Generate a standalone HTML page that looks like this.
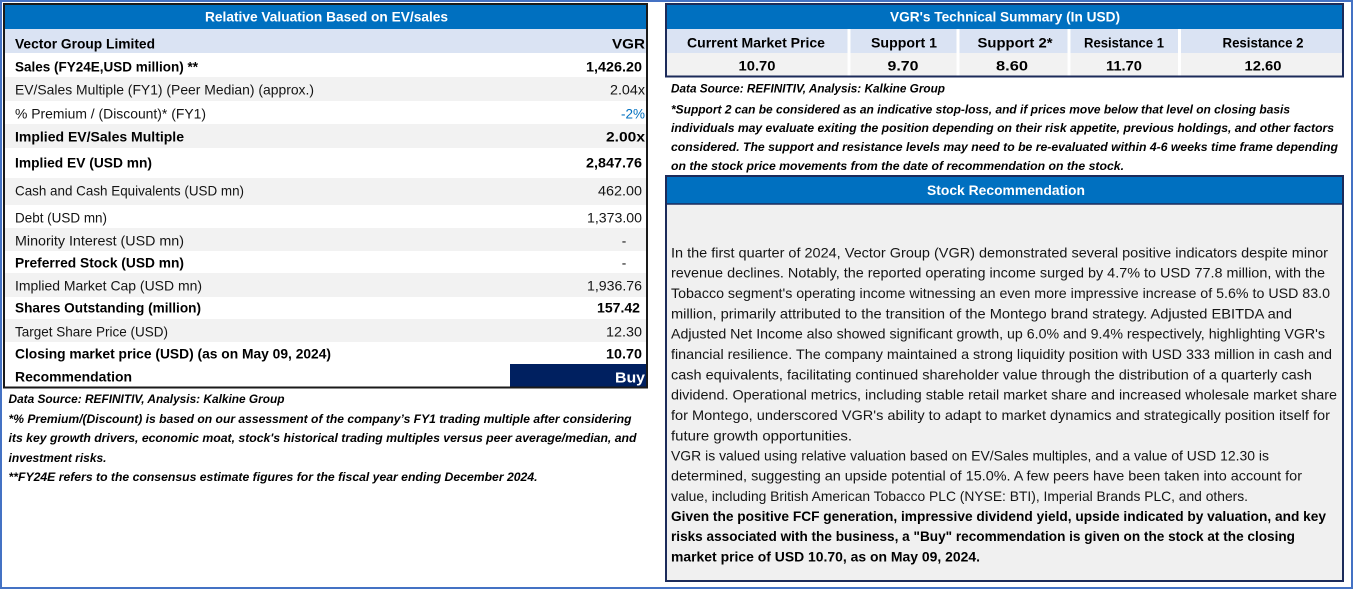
<!DOCTYPE html>
<html>
<head>
<meta charset="utf-8">
<style>
html,body{margin:0;padding:0;background:#fff;}
svg{display:block;}
text{font-family:"Liberation Sans",Arial,sans-serif;font-size:13.6px;fill:#141414;}
.b{font-weight:bold;fill:#000;}
.w{font-weight:bold;fill:#fff;}
.n{font-style:italic;font-weight:bold;font-size:12px;fill:#000;}
</style>
</head>
<body>
<svg width="1354" height="590" viewBox="0 0 1354 590" xmlns="http://www.w3.org/2000/svg">
<rect x="0" y="0" width="1354" height="590" fill="#fff"/>

<!-- LEFT TABLE backgrounds -->
<rect x="4" y="4" width="643" height="25" fill="#0070C0"/>
<rect x="4" y="29" width="643" height="24" fill="#DAE3F3"/>
<rect x="4" y="77" width="643" height="24" fill="#F2F2F2"/>
<rect x="4" y="124" width="643" height="24" fill="#F2F2F2"/>
<rect x="4" y="178" width="643" height="27" fill="#F2F2F2"/>
<rect x="4" y="228" width="643" height="23" fill="#F2F2F2"/>
<rect x="4" y="273" width="643" height="24" fill="#F2F2F2"/>
<rect x="4" y="319" width="643" height="23" fill="#F2F2F2"/>
<rect x="510" y="364" width="137" height="23" fill="#002060"/>
<rect x="4" y="4" width="643" height="383.5" fill="none" stroke="#1a1a1a" stroke-width="2"/>

<!-- LEFT TABLE text -->
<text class="w" x="205" y="21.5" textLength="243" lengthAdjust="spacingAndGlyphs">Relative Valuation Based on EV/sales</text>
<text class="b" x="15" y="48.5" textLength="140" lengthAdjust="spacingAndGlyphs">Vector Group Limited</text>
<text class="b" x="645" y="48.5" text-anchor="end" textLength="33" lengthAdjust="spacingAndGlyphs">VGR</text>

<text class="b" x="15" y="71.5" textLength="183" lengthAdjust="spacingAndGlyphs">Sales (FY24E,USD million) **</text>
<text class="b" x="642" y="71.5" text-anchor="end" textLength="56" lengthAdjust="spacingAndGlyphs">1,426.20</text>

<text x="15" y="94.5" textLength="299" lengthAdjust="spacingAndGlyphs">EV/Sales Multiple (FY1) (Peer Median) (approx.)</text>
<text x="645" y="94.5" text-anchor="end" textLength="35" lengthAdjust="spacingAndGlyphs">2.04x</text>

<text x="15" y="118.5" textLength="191" lengthAdjust="spacingAndGlyphs">% Premium / (Discount)* (FY1)</text>
<text x="645" y="118.5" text-anchor="end" textLength="24" lengthAdjust="spacingAndGlyphs" style="fill:#0070C0">-2%</text>

<text class="b" x="15" y="141.5" textLength="169" lengthAdjust="spacingAndGlyphs">Implied EV/Sales Multiple</text>
<text class="b" x="645" y="141.5" text-anchor="end" textLength="39" lengthAdjust="spacingAndGlyphs">2.00x</text>

<text class="b" x="15" y="167.5" textLength="137" lengthAdjust="spacingAndGlyphs">Implied EV (USD mn)</text>
<text class="b" x="642" y="167.5" text-anchor="end" textLength="56" lengthAdjust="spacingAndGlyphs">2,847.76</text>

<text x="15" y="195.5" textLength="229" lengthAdjust="spacingAndGlyphs">Cash and Cash Equivalents (USD mn)</text>
<text x="642" y="195.5" text-anchor="end" textLength="44" lengthAdjust="spacingAndGlyphs">462.00</text>

<text x="15" y="222.5" textLength="92" lengthAdjust="spacingAndGlyphs">Debt (USD mn)</text>
<text x="642" y="222.5" text-anchor="end" textLength="55" lengthAdjust="spacingAndGlyphs">1,373.00</text>

<text x="15" y="245.5" textLength="169" lengthAdjust="spacingAndGlyphs">Minority Interest (USD mn)</text>
<text x="624" y="245.5" text-anchor="middle">-</text>

<text class="b" x="15" y="267.5" textLength="169" lengthAdjust="spacingAndGlyphs">Preferred Stock (USD mn)</text>
<text x="624" y="267.5" text-anchor="middle">-</text>

<text x="15" y="290.5" textLength="187" lengthAdjust="spacingAndGlyphs">Implied Market Cap (USD mn)</text>
<text x="642" y="290.5" text-anchor="end" textLength="55" lengthAdjust="spacingAndGlyphs">1,936.76</text>

<text class="b" x="15" y="312.5" textLength="186" lengthAdjust="spacingAndGlyphs">Shares Outstanding (million)</text>
<text class="b" x="640" y="312.5" text-anchor="end" textLength="43" lengthAdjust="spacingAndGlyphs">157.42</text>

<text x="15" y="336.5" textLength="153" lengthAdjust="spacingAndGlyphs">Target Share Price (USD)</text>
<text x="642" y="336.5" text-anchor="end" textLength="36" lengthAdjust="spacingAndGlyphs">12.30</text>

<text class="b" x="15" y="358.5" textLength="316" lengthAdjust="spacingAndGlyphs">Closing market price (USD) (as on May 09, 2024)</text>
<text class="b" x="642" y="358.5" text-anchor="end" textLength="36" lengthAdjust="spacingAndGlyphs">10.70</text>

<text class="b" x="15" y="381.5" textLength="117" lengthAdjust="spacingAndGlyphs">Recommendation</text>
<text class="w" x="645" y="382.5" text-anchor="end" textLength="30" lengthAdjust="spacingAndGlyphs" style="font-size:15px">Buy</text>

<!-- LEFT NOTES -->
<text class="n" x="8.5" y="403" textLength="276" lengthAdjust="spacingAndGlyphs">Data Source: REFINITIV, Analysis: Kalkine Group</text>
<text class="n" x="8.5" y="423" textLength="623" lengthAdjust="spacingAndGlyphs">*% Premium/(Discount) is based on our assessment of the company’s FY1 trading multiple after considering</text>
<text class="n" x="8.5" y="442" textLength="628" lengthAdjust="spacingAndGlyphs">its key growth drivers, economic moat, stock's historical trading multiples versus peer average/median, and</text>
<text class="n" x="8.5" y="462" textLength="98" lengthAdjust="spacingAndGlyphs">investment risks.</text>
<text class="n" x="8.5" y="481" textLength="529" lengthAdjust="spacingAndGlyphs">**FY24E refers to the consensus estimate figures for the fiscal year ending December 2024.</text>

<!-- RIGHT TECH TABLE -->
<rect x="666" y="4" width="677" height="25" fill="#0070C0"/>
<rect x="666" y="29" width="677" height="24" fill="#DAE3F3"/>
<rect x="666" y="53" width="677" height="23.5" fill="#F2F2F2"/>
<rect x="847.5" y="29" width="3" height="47.5" fill="#fff"/>
<rect x="956.5" y="29" width="3" height="47.5" fill="#fff"/>
<rect x="1067.5" y="29" width="3" height="47.5" fill="#fff"/>
<rect x="1178" y="29" width="3" height="47.5" fill="#fff"/>
<rect x="666" y="4" width="677" height="72.5" fill="none" stroke="#1c2b5a" stroke-width="2"/>

<text class="w" x="890" y="21.5" textLength="230" lengthAdjust="spacingAndGlyphs">VGR's Technical Summary (In USD)</text>
<text class="b" x="756" y="47.5" text-anchor="middle" textLength="138" lengthAdjust="spacingAndGlyphs">Current Market Price</text>
<text class="b" x="904" y="47.5" text-anchor="middle" textLength="66" lengthAdjust="spacingAndGlyphs">Support 1</text>
<text class="b" x="1015" y="47.5" text-anchor="middle" textLength="75" lengthAdjust="spacingAndGlyphs">Support 2*</text>
<text class="b" x="1124" y="47.5" text-anchor="middle" textLength="80" lengthAdjust="spacingAndGlyphs">Resistance 1</text>
<text class="b" x="1263" y="47.5" text-anchor="middle" textLength="81" lengthAdjust="spacingAndGlyphs">Resistance 2</text>

<text class="b" x="757" y="70.5" text-anchor="middle" textLength="37" lengthAdjust="spacingAndGlyphs">10.70</text>
<text class="b" x="903" y="70.5" text-anchor="middle" textLength="31" lengthAdjust="spacingAndGlyphs">9.70</text>
<text class="b" x="1012" y="70.5" text-anchor="middle" textLength="32" lengthAdjust="spacingAndGlyphs">8.60</text>
<text class="b" x="1124" y="70.5" text-anchor="middle" textLength="36" lengthAdjust="spacingAndGlyphs">11.70</text>
<text class="b" x="1263" y="70.5" text-anchor="middle" textLength="37" lengthAdjust="spacingAndGlyphs">12.60</text>

<!-- RIGHT NOTES -->
<text class="n" x="671" y="92.5" textLength="274" lengthAdjust="spacingAndGlyphs">Data Source: REFINITIV, Analysis: Kalkine Group</text>
<text class="n" x="671" y="113.5" textLength="619" lengthAdjust="spacingAndGlyphs">*Support 2 can be considered as an indicative stop-loss, and if prices move below that level on closing basis</text>
<text class="n" x="671" y="132" textLength="663" lengthAdjust="spacingAndGlyphs">individuals may evaluate exiting the position depending on their risk appetite, previous holdings, and other factors</text>
<text class="n" x="671" y="151" textLength="667" lengthAdjust="spacingAndGlyphs">considered. The support and resistance levels may need to be re-evaluated within 4-6 weeks time frame depending</text>
<text class="n" x="671" y="170" textLength="453" lengthAdjust="spacingAndGlyphs">on the stock price movements from the date of recommendation on the stock.</text>

<!-- STOCK RECOMMENDATION -->
<rect x="666" y="176" width="677" height="28" fill="#0070C0"/>
<rect x="666" y="204" width="677" height="377" fill="#F0F0F0"/>
<rect x="666" y="176" width="677" height="405" fill="none" stroke="#1c2b5a" stroke-width="2"/>
<line x1="666" y1="204" x2="1343" y2="204" stroke="#1c2b5a" stroke-width="1.5"/>
<text class="w" x="927" y="195" textLength="158" lengthAdjust="spacingAndGlyphs">Stock Recommendation</text>

<text x="671" y="257.5" textLength="657" lengthAdjust="spacingAndGlyphs">In the first quarter of 2024, Vector Group (VGR) demonstrated several positive indicators despite minor</text>
<text x="671" y="277.5" textLength="654" lengthAdjust="spacingAndGlyphs">revenue declines. Notably, the reported operating income surged by 4.7% to USD 77.8 million, with the</text>
<text x="671" y="298" textLength="659" lengthAdjust="spacingAndGlyphs">Tobacco segment's operating income witnessing an even more impressive increase of 5.6% to USD 83.0</text>
<text x="671" y="318.5" textLength="621" lengthAdjust="spacingAndGlyphs">million, primarily attributed to the transition of the Montego brand strategy. Adjusted EBITDA and</text>
<text x="671" y="338.5" textLength="654" lengthAdjust="spacingAndGlyphs">Adjusted Net Income also showed significant growth, up 6.0% and 9.4% respectively, highlighting VGR's</text>
<text x="671" y="359" textLength="661" lengthAdjust="spacingAndGlyphs">financial resilience. The company maintained a strong liquidity position with USD 333 million in cash and</text>
<text x="671" y="379.5" textLength="641" lengthAdjust="spacingAndGlyphs">cash equivalents, facilitating continued shareholder value through the distribution of a quarterly cash</text>
<text x="671" y="399.5" textLength="666" lengthAdjust="spacingAndGlyphs">dividend. Operational metrics, including stable retail market share and increased wholesale market share</text>
<text x="671" y="420" textLength="659" lengthAdjust="spacingAndGlyphs">for Montego, underscored VGR's ability to adapt to market dynamics and strategically position itself for</text>
<text x="671" y="440.5" textLength="181" lengthAdjust="spacingAndGlyphs">future growth opportunities.</text>
<text x="671" y="460.5" textLength="598" lengthAdjust="spacingAndGlyphs">VGR is valued using relative valuation based on EV/Sales multiples, and a value of USD 12.30 is</text>
<text x="671" y="480.5" textLength="631" lengthAdjust="spacingAndGlyphs">determined, suggesting an upside potential of 15.0%. A few peers have been taken into account for</text>
<text x="671" y="501" textLength="577" lengthAdjust="spacingAndGlyphs">value, including British American Tobacco PLC (NYSE: BTI), Imperial Brands PLC, and others.</text>
<text class="b" x="671" y="521" textLength="655" lengthAdjust="spacingAndGlyphs">Given the positive FCF generation, impressive dividend yield, upside indicated by valuation, and key</text>
<text class="b" x="671" y="541" textLength="624" lengthAdjust="spacingAndGlyphs">risks associated with the business, a "Buy" recommendation is given on the stock at the closing</text>
<text class="b" x="671" y="561.5" textLength="309" lengthAdjust="spacingAndGlyphs">market price of USD 10.70, as on May 09, 2024.</text>

<!-- OUTER FRAME -->
<rect x="1" y="1" width="1351" height="587" fill="none" stroke="#4472C4" stroke-width="2"/>
</svg>
</body>
</html>
